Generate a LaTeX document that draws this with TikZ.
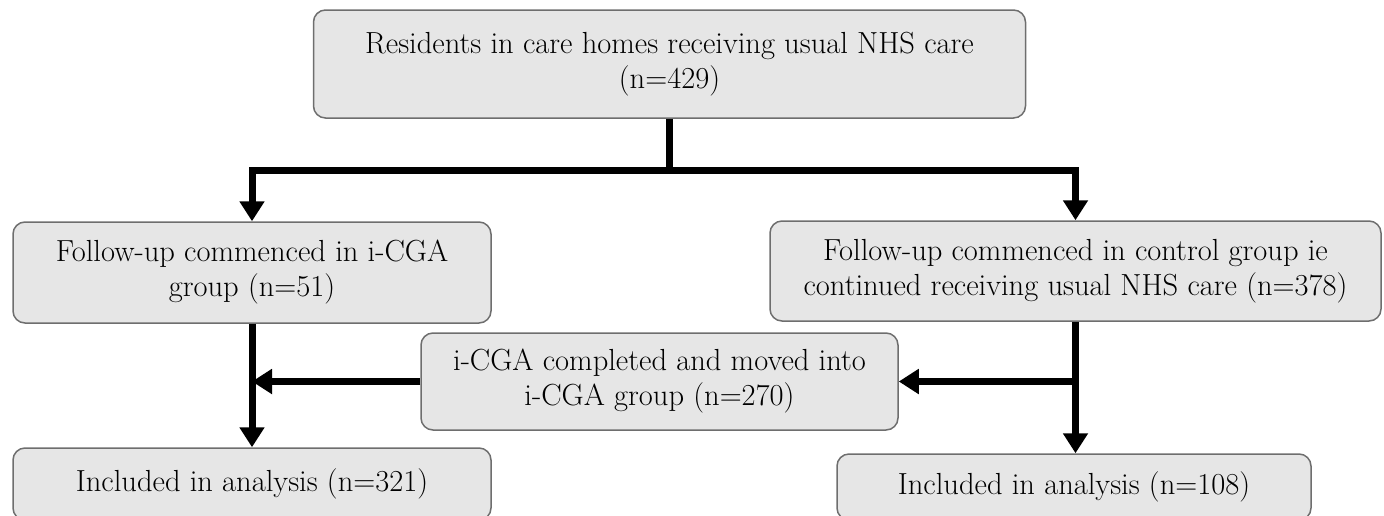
\documentclass[tikz,border=0pt]{standalone}
\usepackage{tikz}
\usetikzlibrary{arrows.meta, positioning, calc}

\definecolor{boxfill}{HTML}{E6E6E6}
\definecolor{boxline}{HTML}{6E6E6E}

\begin{document}
\begin{tikzpicture}[
  x=1pt, y=-1pt,
  arr/.style={-{Triangle[length=20pt, width=24pt]}, line width=7pt},
  lnk/.style={line width=7pt},
  box/.style={draw=boxline, fill=boxfill, line width=1.5pt,
    rounded corners=12pt, align=center, inner sep=0pt,
    font=\fontsize{30.5}{35}\selectfont}
]
  \useasboundingbox (0,0) rectangle (1384,515);
  \node[box, minimum width=712pt, minimum height=108pt] (res) at (669.5,64)
    {Residents in care homes receiving usual NHS care\\(n=429)};
  \node[box, minimum width=478pt, minimum height=101pt] (icga) at (252,272.5)
    {Follow-up commenced in i-CGA\\group (n=51)};
  \node[box, minimum width=611pt, minimum height=100pt] (ctrl) at (1075.5,271)
    {Follow-up commenced in control group ie\\continued receiving usual NHS care (n=378)};
  \node[box, minimum width=477pt, minimum height=97pt] (moved) at (659.5,381.5)
    {i-CGA completed and moved into\\i-CGA group (n=270)};
  \node[box, minimum width=478pt, minimum height=72pt] (inclA) at (252,484)
    {Included in analysis (n=321)};
  \node[box, minimum width=474pt, minimum height=66pt] (inclB) at (1074,487)
    {Included in analysis (n=108)};

  \coordinate (split) at ($(res.south)+(0,52)$);
  \draw[lnk] (res.south) -- (split);
  \draw[arr] (split) -| (icga.north);
  \draw[arr] (split) -| (ctrl.north);
  \draw[arr] (icga.south) -- (inclA.north);
  \draw[arr] (ctrl.south) -- (ctrl.south |- inclB.north);
  \draw[arr] (moved.west) -- (moved.west -| icga.south);
  \draw[arr] (moved.east -| ctrl.south) -- (moved.east);
\end{tikzpicture}
\end{document}
